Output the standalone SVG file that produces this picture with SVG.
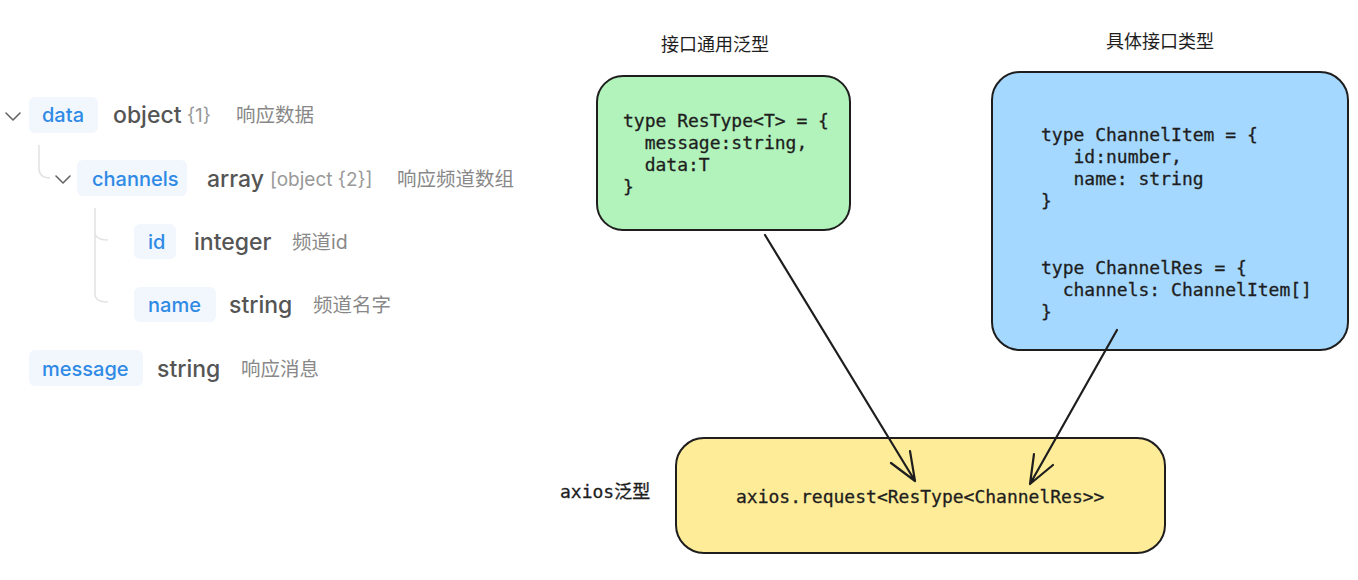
<svg xmlns="http://www.w3.org/2000/svg" width="1358" height="580" viewBox="0 0 1358 580">
<style>
.pill{fill:#f2f7fd}
.key{font-family:Inter,"Noto Sans",sans-serif;font-size:20px;font-weight:500;fill:#2f8ae5}
.typ{font-family:Inter,"Noto Sans",sans-serif;font-size:23px;font-weight:500;fill:#555}
.sub{font-family:Inter,"Noto Sans",sans-serif;font-size:19px;fill:#999}
.desc{font-family:Inter,"Noto Sans CJK SC",sans-serif;font-size:19.5px;fill:#888}
.tree{fill:none;stroke:#e2e2e2;stroke-width:1.5}
.chev{fill:none;stroke:#666;stroke-width:1.6;stroke-linecap:round;stroke-linejoin:round}
.box{stroke:#1e1e1e;stroke-width:2}
.code{font-family:"DejaVu Sans Mono","Liberation Mono","Noto Sans CJK SC",monospace;font-size:18px;fill:#1e1e1e;stroke:#1e1e1e;stroke-width:0.3;white-space:pre}
.title{font-family:"Noto Sans CJK SC",sans-serif;font-size:18px;fill:#1e1e1e}
.conn{fill:none;stroke:#1e1e1e;stroke-width:2.2;stroke-linecap:round;stroke-linejoin:round}
</style>
<rect width="1358" height="580" fill="#ffffff"/>
<g id="schema-tree">
  <path class="chev" d="M6 113 L13 120 L20 113"/>
  <path class="tree" d="M39 145 V168 Q39 178 50 178"/>
  <path class="chev" d="M56 176 L63 183 L70 176"/>
  <path class="tree" d="M95 208 V232 Q95 240 108 240 M95 232 V294 Q95 302 108 302"/>
  <g id="row-data">
    <rect class="pill" x="29" y="97" width="69" height="36" rx="6"/>
    <text class="key" x="42" y="122">data</text>
    <text class="typ" x="113" y="123">object</text>
    <text class="sub" x="187" y="122">{1}</text>
    <text class="desc" x="236" y="122">响应数据</text>
  </g>
  <g id="row-channels">
    <rect class="pill" x="77" y="160" width="110" height="36" rx="6"/>
    <text class="key" x="92" y="186">channels</text>
    <text class="typ" x="207" y="187">array</text>
    <text class="sub" x="270" y="186">[object {2}]</text>
    <text class="desc" x="397" y="186">响应频道数组</text>
  </g>
  <g id="row-id">
    <rect class="pill" x="134" y="224" width="42" height="35" rx="6"/>
    <text class="key" x="148" y="249">id</text>
    <text class="typ" x="194" y="250">integer</text>
    <text class="desc" x="292" y="249">频道id</text>
  </g>
  <g id="row-name">
    <rect class="pill" x="134" y="287" width="82" height="35" rx="6"/>
    <text class="key" x="148" y="312">name</text>
    <text class="typ" x="229" y="313">string</text>
    <text class="desc" x="313" y="312">频道名字</text>
  </g>
  <g id="row-message">
    <rect class="pill" x="29" y="350" width="114" height="36" rx="6"/>
    <text class="key" x="42" y="376">message</text>
    <text class="typ" x="157" y="377">string</text>
    <text class="desc" x="241" y="376">响应消息</text>
  </g>
</g>
<g id="node-restype">
  <text class="title" x="661" y="51">接口通用泛型</text>
  <rect class="box" x="597" y="76" width="253" height="154" rx="26" fill="#b2f2bb"/>
  <text class="code" x="623" y="127">type ResType&lt;T&gt; = {</text>
  <text class="code" x="623" y="149">  message:string,</text>
  <text class="code" x="623" y="171">  data:T</text>
  <text class="code" x="623" y="193">}</text>
</g>
<g id="node-channelres">
  <text class="title" x="1106" y="48">具体接口类型</text>
  <rect class="box" x="992" y="72" width="356" height="278" rx="28" fill="#a5d8ff"/>
  <text class="code" x="1041" y="141">type ChannelItem = {</text>
  <text class="code" x="1041" y="163">   id:number,</text>
  <text class="code" x="1041" y="185">   name: string</text>
  <text class="code" x="1041" y="207">}</text>
  <text class="code" x="1041" y="274">type ChannelRes = {</text>
  <text class="code" x="1041" y="296">  channels: ChannelItem[]</text>
  <text class="code" x="1041" y="318">}</text>
</g>
<g id="node-axios">
  <text class="code" x="560" y="498">axios泛型</text>
  <rect class="box" x="676" y="438" width="489" height="115" rx="28" fill="#ffec99"/>
  <text class="code" x="736" y="503">axios.request&lt;ResType&lt;ChannelRes&gt;&gt;</text>
</g>
<g id="connectors">
  <path class="conn" d="M765 235 L915 481 M891 463 L915 481 L910 451"/>
  <path class="conn" d="M1117 330 L1030 484 M1034 454 L1030 484 L1053 465"/>
</g>
</svg>
